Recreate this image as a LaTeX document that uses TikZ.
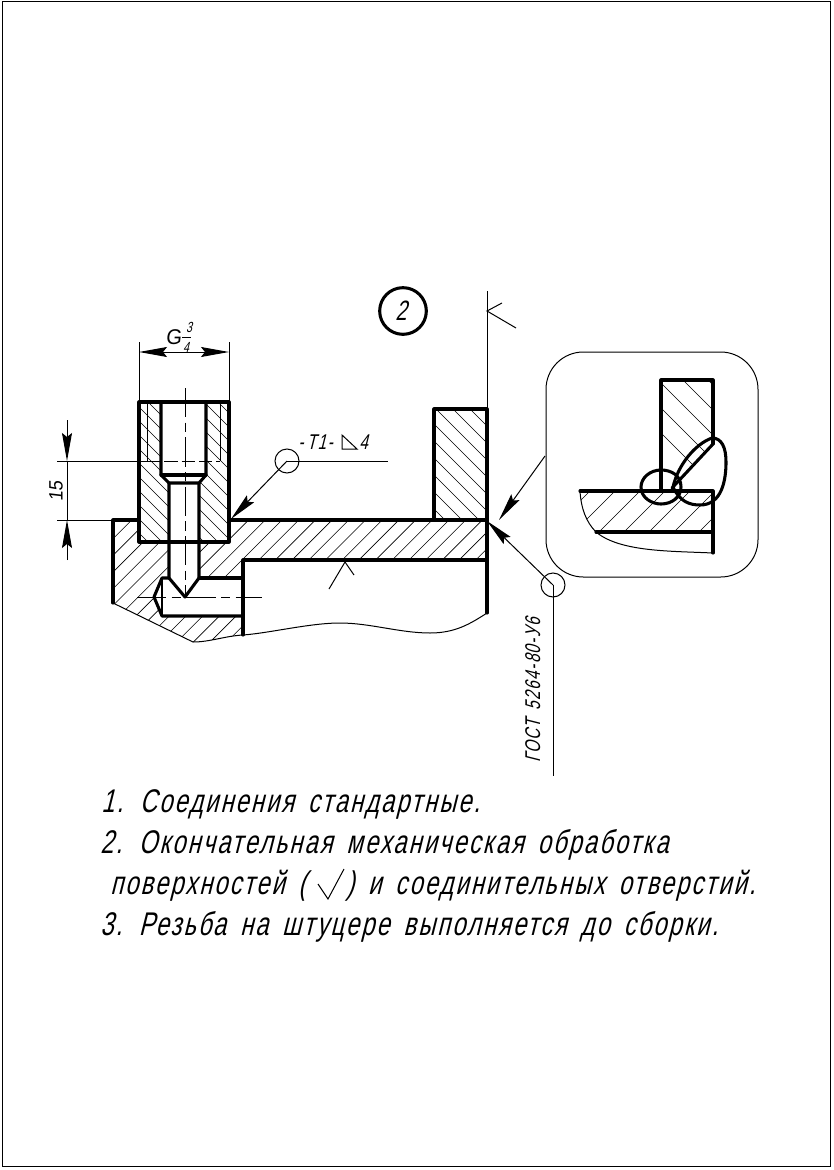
\documentclass[tikz,border=0pt]{standalone}
\usepackage{fontspec}
\setmainfont{Liberation Sans}
\newfontfamily\gostfont{Liberation Sans}[FakeSlant=0.25,FakeStretch=0.72,LetterSpace=6.5,WordSpace=1.6]
\newfontfamily\dimfont{Liberation Sans}[FakeSlant=0.12,FakeStretch=0.95]
\usetikzlibrary{arrows.meta}
\tikzset{
  thick line/.style={line width=2.3pt,line cap=round,line join=round},
  thin line/.style={line width=.75pt},
  hatch line/.style={line width=.45pt},
  center line/.style={line width=.75pt,dash pattern=on 22pt off 4pt on 7pt off 4pt},
  tip arrow/.style={-{Stealth[length=21pt,width=7.5pt,inset=3pt]},line width=.75pt},
  note text/.style={font=\gostfont\fontsize{24.6}{28}\selectfont,anchor=base west,inner sep=0pt},
  small text/.style={font=\gostfont\fontsize{16}{18}\selectfont,inner sep=0pt},
  dim text/.style={font=\dimfont\fontsize{14.5}{16}\selectfont,inner sep=0pt}
}
\begin{document}
\begin{tikzpicture}[x=.75pt,y=-.75pt]
  \useasboundingbox (0,0) rectangle (833,1170);
  \draw[thin line] (2,2) rectangle (830,1166);

  \begin{scope}
    \clip (113,520) -- (487,520) -- (487,560) -- (243,560) -- (243,635)
      .. controls (225,636) and (210,642) .. (193,642) -- (113,603) -- cycle;
    \foreach \k in {135,151.7,...,560}
      \draw[hatch line] (\k,500) -- ++(-160,160);
  \end{scope}
  \begin{scope}
    \clip (139,402) rectangle (229,542);
    \fill[white] (139,402) rectangle (229,542);
    \foreach \k in {-20,-6,...,230}
      \draw[hatch line] (\k,402) -- ++(160,160);
  \end{scope}
  \begin{scope}
    \clip (434,409) rectangle (487,520);
    \foreach \k in {300,317,...,490}
      \draw[hatch line] (\k,409) -- ++(120,120);
  \end{scope}

  \fill[white] (161,402) -- (206,402) -- (206,475) -- (199,483) -- (199,578)
    -- (243,578) -- (243,616) -- (162,616) -- (154,597) -- (162,578) -- (169,578)
    -- (169,483) -- (161,475) -- cycle;

  \draw[thick line] (113,603) -- (113,520) -- (139,520);
  \draw[thick line] (229,520) -- (487,520);
  \draw[thick line] (139,402) rectangle (229,542);
  \draw[thick line] (161,402) -- (161,475) -- (169,483) -- (199,483) -- (206,475) -- (206,402);
  \draw[thick line] (161,475) -- (206,475);
  \draw[thick line] (169,483) -- (169,578) -- (185,597) -- (199,578) -- (199,483);
  \draw[thick line] (199,578) -- (243,578);
  \draw[thick line] (169,578) -- (162,578) -- (154,597) -- (162,616) -- (243,616);
  \draw[line width=1.2pt] (162,578) -- (162,616);
  \draw[thick line] (243,635) -- (243,560) -- (487,560);
  \draw[thick line] (434,520) -- (434,409) -- (487,409) -- (487,613);

  \draw[thin line] (113,603) -- (193,642) .. controls (210,642) and (225,636) .. (243,635)
    .. controls (270,633) and (310,623) .. (340,623)
    .. controls (370,623) and (400,633) .. (430,633)
    .. controls (455,633) and (470,624) .. (487,613);

  \draw[thin line] (147,402) -- (147,461);
  \draw[thin line] (220,402) -- (220,461);
  \draw[thin line] (57,461) -- (147,461);
  \draw[thin line,dash pattern=on 10pt off 3pt] (147,461) -- (220,461);
  \draw[thin line] (57,520) -- (113,520);
  \draw[center line] (185,388) -- (185,597);
  \draw[center line] (137,597) -- (262,597);

  \draw[thin line] (139,342) -- (139,402);
  \draw[thin line] (229,342) -- (229,402);

  \coordinate (gleft)  at (139,352);
  \coordinate (gright) at (229,352);
  \coordinate (gmid)   at (184,352);
  \coordinate (dimtop) at (67,420);
  \coordinate (dimup)  at (67,461);
  \coordinate (dimlow) at (67,520);
  \coordinate (dimbot) at (67,560);
  \coordinate (tipfit) at (231,519);
  \coordinate (tipbox) at (499,520);
  \coordinate (tipweld) at (487,521);
  \coordinate (boxexit) at (545,456);
  \coordinate (gostend) at (553,776);

  \draw[tip arrow] (gmid) -- (gleft);
  \draw[tip arrow] (gmid) -- (gright);
  \draw[tip arrow] (dimtop) -- (dimup);
  \draw[tip arrow] (dimbot) -- (dimlow);
  \draw[thin line] (dimup) -- (dimlow);

  \node[dim text,font=\dimfont\fontsize{16}{18}\selectfont] (gtext) at (173.5,337) {G};
  \node[dim text,font=\gostfont\fontsize{11}{12}\selectfont] (gnum) at (189,327) {3};
  \node[dim text,font=\gostfont\fontsize{11}{12}\selectfont] (gden) at (186,347) {4};
  \draw[thin line] (182,337) -- (191,337);
  \node[dim text,rotate=90] (fifteen) at (56,491) {15};

  \node[circle,draw,line width=2.3pt,minimum size=35pt,inner sep=0pt] (callout) at (403,311) {};
  \node[small text,font=\gostfont\fontsize{21}{24}\selectfont] (calltext) at (401,311) {2};

  \node[circle,draw,thin line,minimum size=18pt,inner sep=0pt] (markfit) at (287,461) {};
  \node[circle,draw,thin line,minimum size=18pt,inner sep=0pt] (markweld) at (553,585) {};
  \draw[tip arrow] (markfit.center) -- (tipfit);
  \draw[thin line] (markfit.center) -- (388,461);
  \draw[tip arrow] (markweld.center) -- (tipweld);
  \draw[thin line] (markweld.center) -- (gostend);
  \draw[tip arrow] (boxexit) -- (tipbox);

  \node[small text,anchor=base west] (weldcode) at (298,449) {-\,T1-};
  \draw[thin line] (342,449) -- (342,435) -- (357,449) -- cycle;
  \node[small text,anchor=base west] (welddepth) at (359,449) {4};
  \node[small text,rotate=90,anchor=base west] (gost) at (540,763) {ГОСТ 5264-80-У6};

  \draw[thin line] (487,291) -- (487,409);
  \draw[thin line] (502,303) -- (487,311) -- (516,328);
  \draw[thin line] (329,589) -- (345,562) -- (354,575);

  \draw[thin line,rounded corners=28pt] (546,352) rectangle (758,577);

  \begin{scope}
    \clip (661,380) -- (713,380) -- (713,444) -- (672,488) -- (661,491) -- cycle;
    \foreach \k in {568,593,...,740}
      \draw[hatch line] (\k,340) -- ++(180,180);
  \end{scope}
  \begin{scope}
    \clip (580,491) -- (713,491) -- (713,532) -- (596,532)
      .. controls (586,522) and (581,508) .. (580,491) -- cycle;
    \foreach \k in {590,615,...,740}
      \draw[hatch line] (\k,491) -- ++(-60,60);
  \end{scope}

  \draw[thick line] (661,491) -- (661,380) -- (713,380) -- (713,444);
  \draw[thick line] (580,491) -- (713,491) -- (713,553);
  \draw[thick line] (596,532) -- (713,532);
  \draw[thin line] (580,491) .. controls (581,508) and (586,522) .. (596,532)
    .. controls (620,552) and (670,551) .. (713,553);
  \draw[thick line] (672,488) -- (713,444);
  \draw[thick line] (681,487) .. controls (681,476) and (672,470) .. (661,470)
    .. controls (650,470) and (641,478) .. (641,487)
    .. controls (641,498) and (652,504) .. (661,504)
    .. controls (672,504) and (681,497) .. (681,487) -- cycle;
  \draw[thick line] (673,487) .. controls (678,465) and (695,444) .. (712,438)
    .. controls (722,438) and (726,448) .. (726,462)
    .. controls (726,480) and (722,505) .. (700,505)
    .. controls (690,505) and (680,502) .. (673,487) -- cycle;

  \node[note text] (noteone) at (101,812) {1. Соединения стандартные.};
  \node[note text] (notetwo) at (100,853) {2. Окончательная механическая обработка};
  \node[note text] (notethreea) at (110,894) {поверхностей (};
  \node[note text] (notethreeb) at (346,894) {) и соединительных отверстий.};
  \node[note text] (notefour) at (100,935) {3. Резьба на штуцере выполняется до сборки.};
  \draw[thin line] (318,884) -- (328,899) -- (344,869);
\end{tikzpicture}
\end{document}
